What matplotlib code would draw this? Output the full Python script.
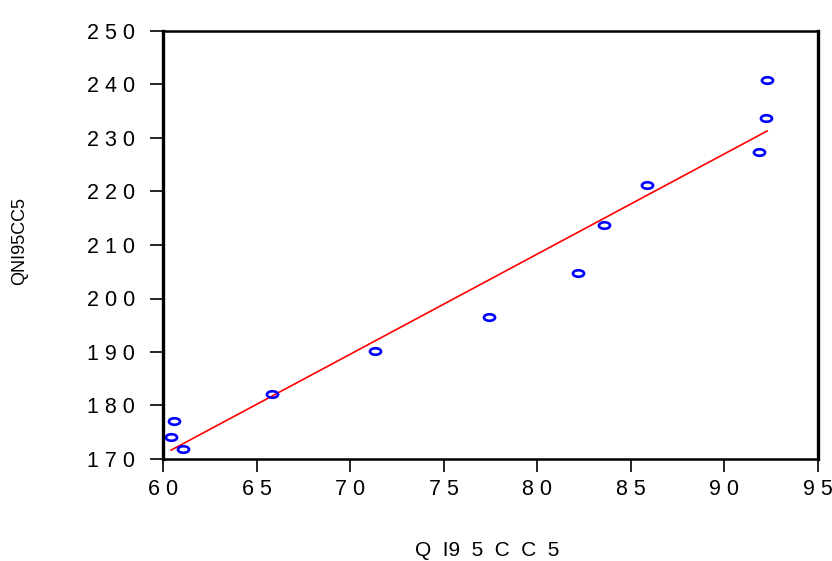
import matplotlib

matplotlib.use("Agg")
import matplotlib.pyplot as plt
import numpy as np
from matplotlib.markers import MarkerStyle
from matplotlib.path import Path
from matplotlib.transforms import Affine2D

# datos
qi95cc5 = [60.43, 60.59, 61.07, 65.83, 71.33, 77.42, 82.18, 83.57, 85.87, 91.85, 92.23, 92.28]
qni95cc5 = [174.1, 177.1, 171.9, 182.1, 190.2, 196.5, 204.8, 213.7, 221.2, 227.4, 233.7, 240.8]

xticks = [60, 65, 70, 75, 80, 85, 90, 95]
yticks = [170, 180, 190, 200, 210, 220, 230, 240, 250]

plt.rcParams["font.family"] = ["Liberation Sans", "DejaVu Sans"]

x = np.array(qi95cc5)
y = np.array(qni95cc5)
pendiente, corte = np.polyfit(x, y, 1)
x_linea = np.array([x.min(), x.max()])

# marcador elíptico (más ancho que alto)
elipse = Path.unit_circle().transformed(Affine2D().scale(1.7, 1.0))
marcador = MarkerStyle(elipse)

fig = plt.figure(figsize=(8.32, 5.61), dpi=100)
eje = fig.add_axes([163 / 832, 1 - 459 / 561, 655 / 832, 428 / 561])

eje.plot(x_linea, pendiente * x_linea + corte, color="red", linewidth=1.2)
eje.plot(x, y, linestyle="none", marker=marcador, markersize=8,
         markerfacecolor="none", markeredgecolor="blue", markeredgewidth=1.9)

eje.set_xlim(60, 95)
eje.set_ylim(170, 250)
eje.set_xticks(xticks)
eje.set_xticklabels([" ".join(str(t)) for t in xticks])
eje.set_yticks(yticks)
eje.set_yticklabels([" ".join(str(t)) for t in yticks])
eje.tick_params(axis="both", direction="out", length=9.5, width=1.2, labelsize=15.5)
eje.tick_params(axis="y", pad=10.5)
eje.tick_params(axis="x", pad=5)

for lado in ["left", "right"]:
    eje.spines[lado].set_linewidth(2.4)
for lado in ["top", "bottom"]:
    eje.spines[lado].set_linewidth(1.8)

fig.text(487 / 832, 1 - 551 / 561, "Q  I9  5  C  C  5", ha="center", va="center", fontsize=15)
fig.text(20 / 832, 1 - 241 / 561, "QNI95CC5", ha="center", va="center",
         rotation=90, fontsize=13)

fig.savefig("out.png", dpi=100)
plt.close(fig)
